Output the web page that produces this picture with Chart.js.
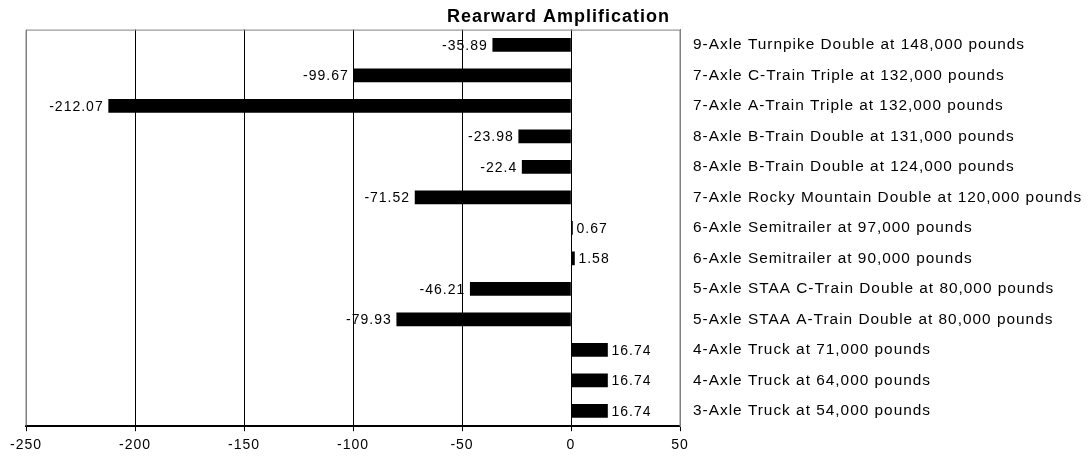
<!DOCTYPE html>
<html>
<head>
<meta charset="utf-8">
<script src="https://cdn.jsdelivr.net/npm/chart.js@4.4.1/dist/chart.umd.min.js"></script>
<style>
  html, body { margin: 0; padding: 0; background: #fff; }
  #wrap { width: 1091px; height: 464px; }
</style>
</head>
<body>
<div id="wrap"><canvas id="barchart" width="1091" height="464"></canvas></div>
<script>
// kategori kendaraan (urutan dari atas ke bawah)
const vehicles = [
  '9-Axle Turnpike Double at 148,000 pounds',
  '7-Axle C-Train Triple at 132,000 pounds',
  '7-Axle A-Train Triple at 132,000 pounds',
  '8-Axle B-Train Double at 131,000 pounds',
  '8-Axle B-Train Double at 124,000 pounds',
  '7-Axle Rocky Mountain Double at 120,000 pounds',
  '6-Axle Semitrailer at 97,000 pounds',
  '6-Axle Semitrailer at 90,000 pounds',
  '5-Axle STAA C-Train Double at 80,000 pounds',
  '5-Axle STAA A-Train Double at 80,000 pounds',
  '4-Axle Truck at 71,000 pounds',
  '4-Axle Truck at 64,000 pounds',
  '3-Axle Truck at 54,000 pounds'
];

// nilai rearward amplification
const amplification = [-35.89, -99.67, -212.07, -23.98, -22.4, -71.52, 0.67, 1.58, -46.21, -79.93, 16.74, 16.74, 16.74];

// batas dan langkah sumbu x
const xMin = -250;
const xMax = 50;
const xStep = 50;

const FONT = '"Liberation Sans", Arial, sans-serif';

// teks di gambar asli sedikit renggang
const spacing = {
  id: 'spacing',
  beforeUpdate(chart) { chart.ctx.letterSpacing = '1px'; },
  beforeDraw(chart) { chart.ctx.letterSpacing = '1px'; }
};

// garis tepi area plot (abu-abu)
const frame = {
  id: 'frame',
  beforeDatasetsDraw(chart) {
    const { ctx, chartArea: a } = chart;
    ctx.save();
    ctx.strokeStyle = '#808080';
    ctx.lineWidth = 1;
    ctx.beginPath();
    ctx.moveTo(a.left, a.bottom);
    ctx.lineTo(a.left, a.top + 0.5);
    ctx.lineTo(a.right, a.top + 0.5);
    ctx.lineTo(a.right, a.bottom);
    ctx.stroke();
    ctx.restore();
  }
};

// label nilai di ujung batang
const valueLabels = {
  id: 'valueLabels',
  afterDatasetsDraw(chart) {
    const { ctx } = chart;
    const meta = chart.getDatasetMeta(0);
    ctx.save();
    ctx.font = '14px ' + FONT;
    ctx.fillStyle = '#000';
    ctx.textBaseline = 'middle';
    meta.data.forEach((bar, i) => {
      const v = amplification[i];
      if (v < 0) {
        ctx.textAlign = 'right';
        ctx.fillText(String(v), bar.x - 5, bar.y + 1);
      } else {
        ctx.textAlign = 'left';
        ctx.fillText(String(v), bar.x + 4, bar.y + 1);
      }
    });
    ctx.restore();
  }
};

const ctx = document.getElementById('barchart').getContext('2d');
new Chart(ctx, {
  type: 'bar',
  data: {
    labels: vehicles,
    datasets: [{
      data: amplification,
      backgroundColor: '#000',
      borderWidth: 0,
      barThickness: 13
    }]
  },
  plugins: [spacing, frame, valueLabels],
  options: {
    indexAxis: 'y',
    responsive: false,
    animation: false,
    layout: { padding: { left: 26, right: 0, top: 6, bottom: 4 } },
    scales: {
      x: {
        min: xMin,
        max: xMax,
        ticks: {
          stepSize: xStep,
          color: '#000',
          font: { family: FONT, size: 14 },
          padding: 6
        },
        grid: {
          color: (c) => (c.tick && (c.tick.value === xMin || c.tick.value === xMax)) ? '#808080' : '#000',
          tickColor: '#000',
          tickLength: 5,
          lineWidth: 1
        },
        border: { color: '#000', width: 2 }
      },
      y: {
        position: 'right',
        afterFit: (scale) => { scale.width = 411; },
        ticks: {
          color: '#000',
          font: { family: FONT, size: 15.4 },
          padding: 13,
          autoSkip: false
        },
        grid: { display: false, drawTicks: false },
        border: { color: '#808080', width: 1 }
      }
    },
    plugins: {
      legend: { display: false },
      tooltip: { enabled: false },
      title: {
        display: true,
        text: 'Rearward Amplification',
        color: '#000',
        font: { family: FONT, size: 18, weight: 'bold' },
        padding: { top: 0, bottom: 2 }
      }
    }
  }
});
</script>
</body>
</html>
